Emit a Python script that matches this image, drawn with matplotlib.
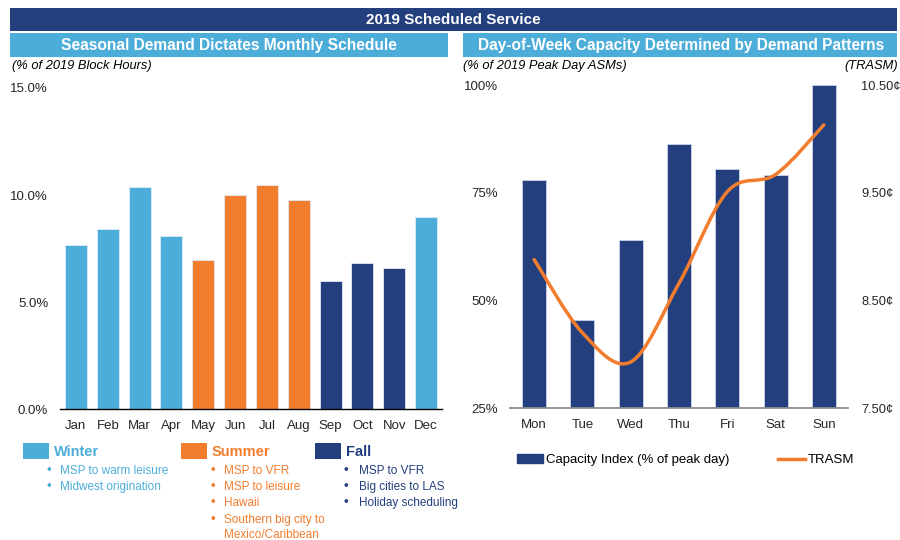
import numpy as np
import matplotlib
matplotlib.use("Agg")
import matplotlib.pyplot as plt
from matplotlib.patches import Rectangle, PathPatch, Patch
from matplotlib.lines import Line2D
from matplotlib.path import Path

plt.rcParams['font.family'] = ['Liberation Sans', 'DejaVu Sans']

# ---------------- data ----------------
months = ['Jan', 'Feb', 'Mar', 'Apr', 'May', 'Jun', 'Jul', 'Aug', 'Sep', 'Oct', 'Nov', 'Dec']
block_hours_pct = [7.67, 8.41, 10.36, 8.09, 6.95, 10.0, 10.48, 9.78, 5.98, 6.84, 6.58, 9.0]
month_season = ['Winter', 'Winter', 'Winter', 'Winter', 'Summer', 'Summer', 'Summer', 'Summer',
                'Fall', 'Fall', 'Fall', 'Winter']
left_yticks = [0, 5, 10, 15]
left_yticklabels = ['0.0%', '5.0%', '10.0%', '15.0%']

days = ['Mon', 'Tue', 'Wed', 'Thu', 'Fri', 'Sat', 'Sun']
capacity_index = [77.9, 45.5, 64.0, 86.2, 80.6, 79.2, 100.0]
trasm = [8.88, 8.20, 7.93, 8.66, 9.51, 9.67, 10.13]
cap_ticks = [25, 50, 75, 100]
cap_ticklabels = ['25%', '50%', '75%', '100%']
trasm_ticks = [7.5, 8.5, 9.5, 10.5]
trasm_ticklabels = ['7.50¢', '8.50¢', '9.50¢', '10.50¢']

season_names = ['Winter', 'Summer', 'Fall']
season_bullets = {
    'Winter': ['MSP to warm leisure', 'Midwest origination'],
    'Summer': ['MSP to VFR', 'MSP to leisure', 'Hawaii', 'Southern big city to', 'Mexico/Caribbean'],
    'Fall': ['MSP to VFR', 'Big cities to LAS', 'Holiday scheduling'],
}

# ---------------- styles ----------------
LBLUE = '#4DADD9'
ORANGE = '#F27D2E'
NAVY = '#233F7E'
TXT = '#262626'
season_colors = {'Winter': LBLUE, 'Summer': ORANGE, 'Fall': NAVY}

W, H = 900, 540
fig = plt.figure(figsize=(9, 5.4), dpi=100)

def fx(px):
    return px / W

def fy(py):
    return 1 - py / H

def band(x0, x1, y0, y1, color):
    fig.add_artist(Rectangle((fx(x0), fy(y1)), fx(x1) - fx(x0), fy(y0) - fy(y1),
                             transform=fig.transFigure, color=color, lw=0, zorder=0))

# header bands
band(10, 897, 8, 31, NAVY)
fig.text(fx(453.5), fy(19.5), '2019 Scheduled Service', color='white', fontsize=11,
         fontweight='bold', ha='center', va='center')
band(10, 448, 33, 57, LBLUE)
fig.text(fx(229), fy(45.5), 'Seasonal Demand Dictates Monthly Schedule', color='white',
         fontsize=11.2, fontweight='bold', ha='center', va='center')
band(463, 897, 33, 57, LBLUE)
fig.text(fx(681), fy(45.5), 'Day-of-Week Capacity Determined by Demand Patterns', color='white',
         fontsize=11.2, fontweight='bold', ha='center', va='center')

fig.text(fx(12), fy(66), '(% of 2019 Block Hours)', fontsize=9.3, style='italic',
         color='black', ha='left', va='center')
fig.text(fx(463), fy(66), '(% of 2019 Peak Day ASMs)', fontsize=9.3, style='italic',
         color='black', ha='left', va='center')
fig.text(fx(898), fy(66), '(TRASM)', fontsize=9.3, style='italic',
         color='black', ha='right', va='center')

# ---------------- left chart ----------------
ax = fig.add_axes([fx(60), fy(409.3), fx(442) - fx(60), fy(88) - fy(409.3)])
x = np.arange(len(months))
ax.bar(x, block_hours_pct, width=0.69, color=[season_colors[s] for s in month_season],
       edgecolor='#DCEAF5', linewidth=0.6)
ax.set_xlim(-0.5, len(months) - 0.5)
ax.set_ylim(0, 15)
ax.set_yticks(left_yticks)
ax.set_yticklabels(left_yticklabels)
ax.set_xticks(x)
ax.set_xticklabels(months)
for s in ['top', 'right', 'left']:
    ax.spines[s].set_visible(False)
ax.spines['bottom'].set_color('black')
ax.spines['bottom'].set_linewidth(1.0)
ax.tick_params(axis='both', length=0, labelsize=9.5, colors=TXT)
ax.tick_params(axis='y', pad=8.5)
ax.tick_params(axis='x', pad=8)
ax.set_facecolor('none')

# season legend (left)
sq_x = {'Winter': 23, 'Summer': 181, 'Fall': 315}
bul_x = {'Winter': 49, 'Summer': 213, 'Fall': 346}
txt_x = {'Winter': 60, 'Summer': 224, 'Fall': 359}
line_y = [470.7, 486.7, 503, 520, 535]
for s in season_names:
    c = season_colors[s]
    fig.add_artist(Rectangle((fx(sq_x[s]), fy(459)), fx(26), 16 / H,
                             transform=fig.transFigure, color=c, lw=0))
    fig.text(fx(sq_x[s] + 31), fy(451.5), s, color=c, fontsize=10.5, fontweight='bold',
             ha='left', va='center')
    for i, b in enumerate(season_bullets[s]):
        yy = line_y[i]
        if not (s == 'Summer' and i == 4):
            fig.text(fx(bul_x[s]), fy(yy), '•', color=c, fontsize=9.5, ha='center', va='center')
        fig.text(fx(txt_x[s]), fy(yy), b, color=c, fontsize=8.5, ha='left', va='center')

# ---------------- right chart ----------------
axr = fig.add_axes([fx(510), fy(408.3), fx(848) - fx(510), fy(85) - fy(408.3)])
xd = np.arange(len(days))
axr.bar(xd, capacity_index, width=0.5, color=NAVY, edgecolor='#C9D6EC', linewidth=0.6,
        label='Capacity Index (% of peak day)')
axr.set_xlim(-0.5, len(days) - 0.5)
axr.set_ylim(25, 100)
axr.set_yticks(cap_ticks)
axr.set_yticklabels(cap_ticklabels)
axr.set_xticks(xd)
axr.set_xticklabels(days)
for s in ['top', 'right', 'left']:
    axr.spines[s].set_visible(False)
axr.spines['bottom'].set_color('#8C8C8C')
axr.spines['bottom'].set_linewidth(1.3)
axr.tick_params(axis='both', length=0, labelsize=9.5, colors=TXT)
axr.tick_params(axis='y', pad=8.5)
axr.tick_params(axis='x', pad=8)
axr.set_facecolor('none')

ax2 = axr.twinx()
ax2.set_ylim(7.5, 10.5)
ax2.set_yticks(trasm_ticks)
ax2.set_yticklabels(trasm_ticklabels)
for s in ['top', 'right', 'left', 'bottom']:
    ax2.spines[s].set_visible(False)
ax2.tick_params(axis='both', length=0, labelsize=9.3, colors=TXT)
ax2.tick_params(axis='y', pad=9.5)

# smoothed TRASM line (cubic Bezier through data points)
pts = np.column_stack([xd, np.array(trasm)])
verts = [tuple(pts[0])]
codes = [Path.MOVETO]
n = len(pts)
for i in range(n - 1):
    p0 = pts[i - 1] if i > 0 else pts[i]
    p1 = pts[i]
    p2 = pts[i + 1]
    p3 = pts[i + 2] if i + 2 < n else pts[i + 1]
    c1 = p1 + (p2 - p0) / 6.0
    c2 = p2 - (p3 - p1) / 6.0
    verts += [tuple(c1), tuple(c2), tuple(p2)]
    codes += [Path.CURVE4, Path.CURVE4, Path.CURVE4]
ax2.add_patch(PathPatch(Path(verts, codes), facecolor='none', edgecolor=ORANGE, lw=2.5,
                        capstyle='round', joinstyle='round'))

handles = [Patch(facecolor=NAVY, edgecolor=NAVY, label='Capacity Index (% of peak day)'),
           Line2D([0], [0], color=ORANGE, lw=2.5, label='TRASM')]
fig.legend(handles=handles, loc='center left', bbox_to_anchor=(fx(517), fy(460)),
           ncol=2, frameon=False, fontsize=9.5, handlelength=2.0, handletextpad=0.2,
           columnspacing=3.7, borderpad=0, borderaxespad=0, labelcolor='black')

fig.savefig('out.png', dpi=100)
